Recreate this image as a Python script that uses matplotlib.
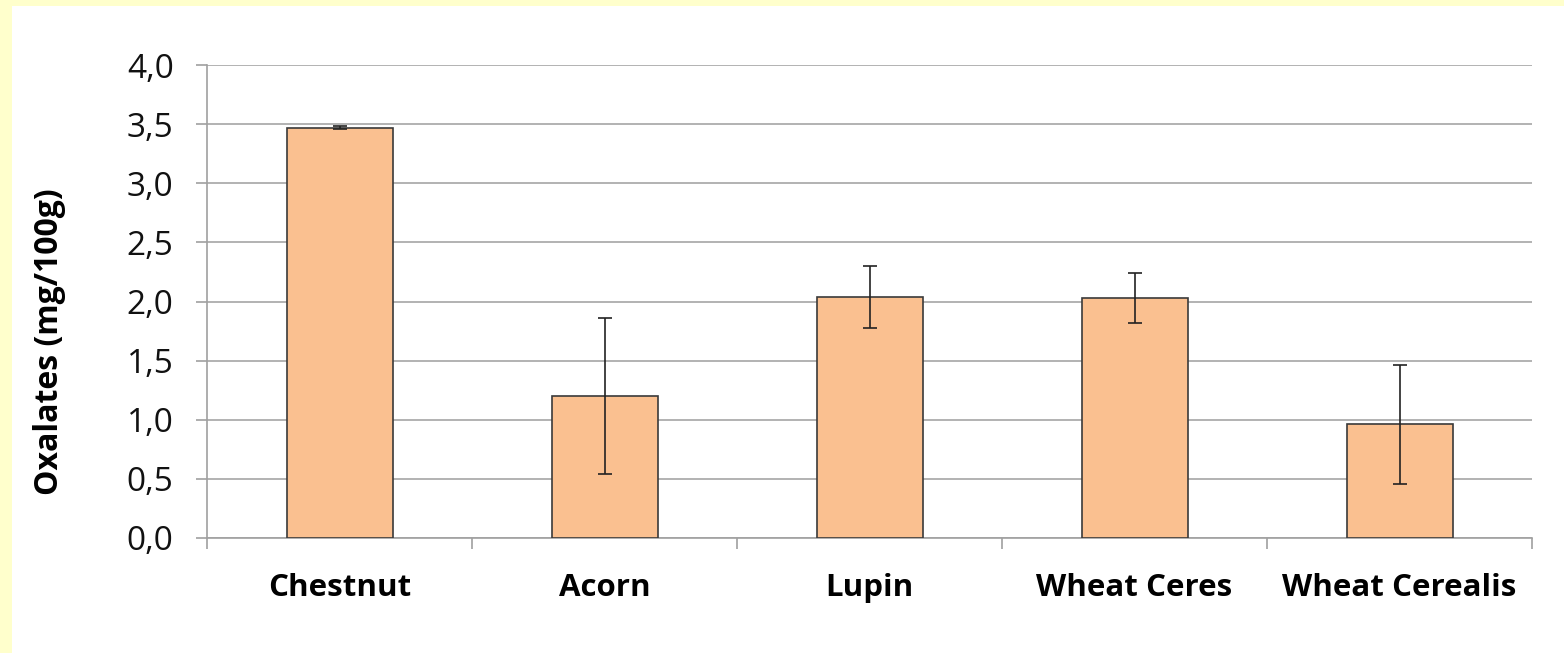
import matplotlib
matplotlib.use('Agg')
import matplotlib.pyplot as plt
from matplotlib.patches import Rectangle
import numpy as np

# data
categories = ['Chestnut', 'Acorn', 'Lupin', 'Wheat Ceres', 'Wheat Cerealis']
values = [3.47, 1.20, 2.04, 2.03, 0.96]
errors = [0.01, 0.66, 0.26, 0.21, 0.50]
yticks = [0.0, 0.5, 1.0, 1.5, 2.0, 2.5, 3.0, 3.5, 4.0]

plt.rcParams['font.family'] = ['Open Sans', 'DejaVu Sans']

fig = plt.figure(figsize=(15.64, 6.53), dpi=100)
fig.patch.set_facecolor('white')
# yellow frame on the left and top
fig.patches.append(Rectangle((0, 0), 12 / 1564, 1, transform=fig.transFigure,
                             facecolor='#FFFFCC', edgecolor='none', zorder=0))
fig.patches.append(Rectangle((0, 1 - 6 / 653), 1, 6 / 653, transform=fig.transFigure,
                             facecolor='#FFFFCC', edgecolor='none', zorder=0))

ax = fig.add_axes([207 / 1564, 115 / 653, 1325 / 1564, 473 / 653])

x = np.arange(len(categories))
ax.bar(x, values, width=0.4, color='#FAC090', edgecolor='#3a3a3a', linewidth=1.2, zorder=3)
ax.errorbar(x, values, yerr=errors, fmt='none', ecolor='#222222', elinewidth=1.2,
            capsize=5, capthick=1.2, zorder=4)

ax.set_xlim(-0.5, len(categories) - 0.5)
ax.set_ylim(0, 4)
ax.set_yticks(yticks)
ax.set_yticklabels([f'{v:.1f}'.replace('.', ',') for v in yticks], fontsize=24, color='#111111')
ax.set_xticks(x)
ax.set_xticklabels(categories, fontsize=22.5, fontweight='bold')
ax.set_xticks(np.arange(len(categories) + 1) - 0.5, minor=True)
ax.tick_params(axis='x', which='major', length=0, pad=25)
ax.tick_params(axis='x', which='minor', length=8, color='#A0A0A0', width=1.2)
ax.tick_params(axis='y', length=8, color='#A0A0A0', width=1.2, pad=16)

ax.grid(axis='y', color='#A6A6A6', linewidth=1.2, zorder=0)
for s in ['top', 'right']:
    ax.spines[s].set_visible(False)
for s in ['left', 'bottom']:
    ax.spines[s].set_color('#A0A0A0')
    ax.spines[s].set_linewidth(1.2)

ax.set_ylabel('Oxalates (mg/100g)', fontsize=23, fontweight='bold', va='center')
ax.yaxis.set_label_coords(-0.1185, 0.414)

plt.savefig('out.png', dpi=100)
